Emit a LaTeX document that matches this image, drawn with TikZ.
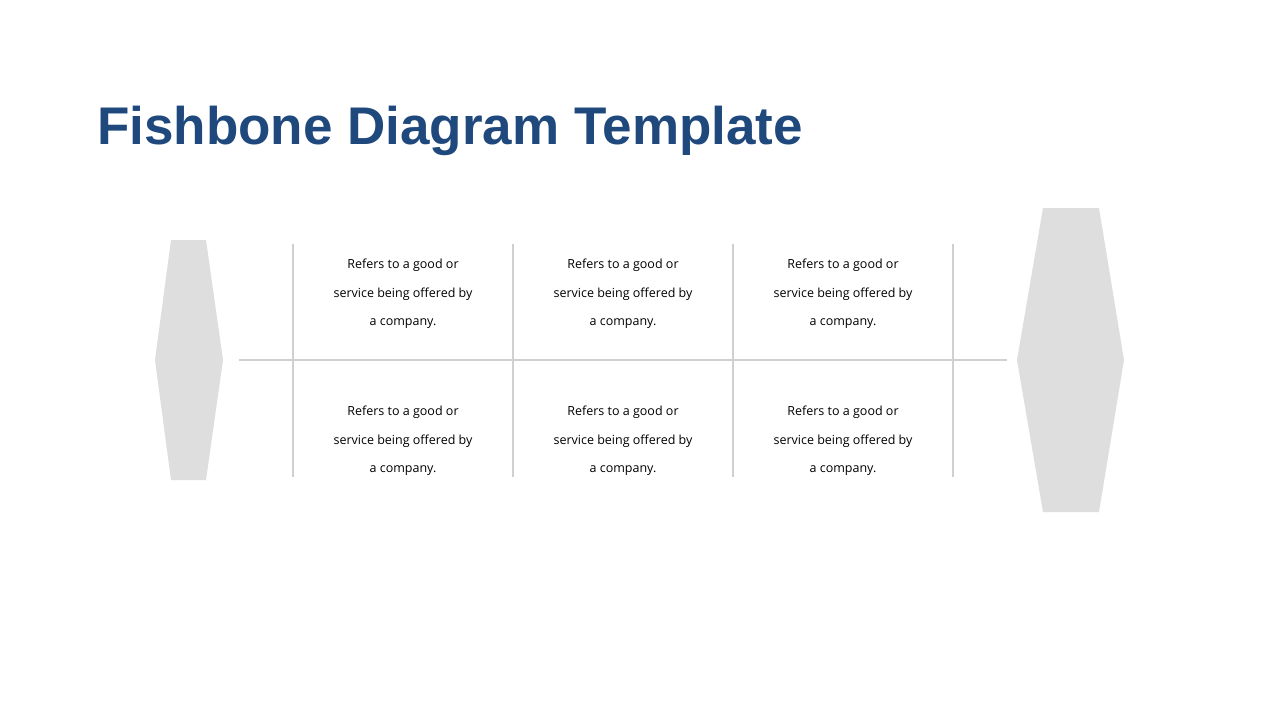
\documentclass[tikz,border=0pt]{standalone}
\usepackage{fontspec}
\setmainfont{Open Sans}
\newfontfamily\titlefont{Liberation Sans}
\definecolor{titleblue}{HTML}{1F497D}
\definecolor{bonegray}{HTML}{D0D0D0}
\definecolor{shapegray}{HTML}{DEDEDE}
\begin{document}
\begin{tikzpicture}[x=1pt,y=-1pt,
  bone/.style={draw=bonegray,line width=2.5pt},
  hexshape/.style={fill=shapegray,draw=none},
  cause/.style={align=center,font=\fontsize{12.5}{28.5}\selectfont,text=black,inner sep=0pt},
  title/.style={anchor=base west,font=\titlefont\bfseries\fontsize{53}{60}\selectfont,text=titleblue,inner sep=0pt}]
\useasboundingbox[fill=white] (0,0) rectangle (1280,720);
\node[title] (t) at (97,144) {Fishbone Diagram Template};
% end shapes
\fill[hexshape] (171,240) -- (206,240) -- (223,360) -- (206,480) -- (171,480) -- (155,360) -- cycle;
\fill[hexshape] (1043,208) -- (1099,208) -- (1124,360) -- (1099,512) -- (1043,512) -- (1017,360) -- cycle;
% spine
\coordinate (sL) at (239,360);
\coordinate (sR) at (1007,360);
\draw[bone] (sL) -- (sR);
% ribs
\foreach \i/\x in {1/293,2/513,3/733,4/953}{
  \coordinate (rt\i) at (\x,244);
  \coordinate (rb\i) at (\x,477);
  \draw[bone] (rt\i) -- (rb\i);
}
% texts
\foreach \i/\x in {1/403,2/623,3/843}{
  \node[cause] (up\i) at (\x,294) {Refers to a good or\\service being offered by\\a company.};
  \node[cause] (dn\i) at (\x,441) {Refers to a good or\\service being offered by\\a company.};
}
\end{tikzpicture}
\end{document}
